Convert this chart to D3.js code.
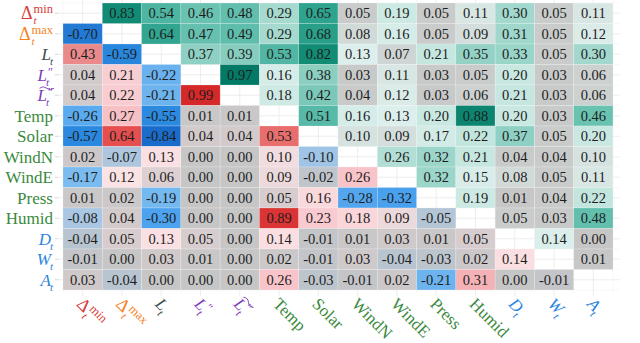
<!DOCTYPE html>
<html>
<head>
<meta charset="utf-8">
<script src="https://cdn.jsdelivr.net/npm/d3@7"></script>
<style>
  body { margin: 0; background: #fff; }
  svg { display: block; }
</style>
</head>
<body>
<div id="chart"></div>
<script>
// variable names (order of rows and columns)
let vars = ["dmin", "dmax", "L", "L2", "L2t", "Temp", "Solar", "WindN", "WindE", "Press", "Humid", "D", "W", "A"];

// correlation values: upper triangle and lower triangle, diagonal left empty
let rowDmin  = [null, 0.83, 0.54, 0.46, 0.48, 0.29, 0.65, 0.05, 0.19, 0.05, 0.11, 0.30, 0.05, 0.11];
let rowDmax  = [-0.70, null, 0.64, 0.47, 0.49, 0.29, 0.68, 0.08, 0.16, 0.05, 0.09, 0.31, 0.05, 0.12];
let rowL     = [0.43, -0.59, null, 0.37, 0.39, 0.53, 0.82, 0.13, 0.07, 0.21, 0.35, 0.33, 0.05, 0.30];
let rowL2    = [0.04, 0.21, -0.22, null, 0.97, 0.16, 0.38, 0.03, 0.11, 0.03, 0.05, 0.20, 0.03, 0.06];
let rowL2t   = [0.04, 0.22, -0.21, 0.99, null, 0.18, 0.42, 0.04, 0.12, 0.03, 0.06, 0.21, 0.03, 0.06];
let rowTemp  = [-0.26, 0.27, -0.55, 0.01, 0.01, null, 0.51, 0.16, 0.13, 0.20, 0.88, 0.20, 0.03, 0.46];
let rowSolar = [-0.57, 0.64, -0.84, 0.04, 0.04, 0.53, null, 0.10, 0.09, 0.17, 0.22, 0.37, 0.05, 0.20];
let rowWindN = [0.02, -0.07, 0.13, 0.00, 0.00, 0.10, -0.10, null, 0.26, 0.32, 0.21, 0.04, 0.04, 0.10];
let rowWindE = [-0.17, 0.12, 0.06, 0.00, 0.00, 0.09, -0.02, 0.26, null, 0.32, 0.15, 0.08, 0.05, 0.11];
let rowPress = [0.01, 0.02, -0.19, 0.00, 0.00, 0.05, 0.16, -0.28, -0.32, null, 0.19, 0.01, 0.04, 0.22];
let rowHumid = [-0.08, 0.04, -0.30, 0.00, 0.00, 0.89, 0.23, 0.18, 0.09, -0.05, null, 0.05, 0.03, 0.48];
let rowD     = [-0.04, 0.05, 0.13, 0.05, 0.00, 0.14, -0.01, 0.01, 0.03, 0.01, 0.05, null, 0.14, 0.00];
let rowW     = [-0.01, 0.00, 0.03, 0.01, 0.00, 0.02, -0.01, 0.03, -0.04, -0.03, 0.02, 0.14, null, 0.01];
let rowA     = [0.03, -0.04, 0.00, 0.00, 0.00, 0.26, -0.03, -0.01, 0.02, -0.21, 0.31, 0.00, -0.01, null];

let rows = [rowDmin, rowDmax, rowL, rowL2, rowL2t, rowTemp, rowSolar, rowWindN, rowWindE, rowPress, rowHumid, rowD, rowW, rowA];

// axis labels (main symbol, subscript, superscript)
let labels = {
	dmin:  {main: "Δ", sub: "t", sup: "min", color: "#d83a3a"},
	dmax:  {main: "Δ", sub: "t", sup: "max", color: "#f5821f"},
	L:     {main: "L", italic: true, sub: "t", color: "#3e4b4b"},
	L2:    {main: "L", italic: true, sub: "t", sup: "″", color: "#7d3bb8"},
	L2t:   {main: "L", italic: true, sub: "t", sup: "″", tilde: true, color: "#7d3bb8"},
	Temp:  {main: "Temp", color: "#3b8a3e"},
	Solar: {main: "Solar", color: "#3b8a3e"},
	WindN: {main: "WindN", color: "#3b8a3e"},
	WindE: {main: "WindE", color: "#3b8a3e"},
	Press: {main: "Press", color: "#3b8a3e"},
	Humid: {main: "Humid", color: "#3b8a3e"},
	D:     {main: "D", italic: true, sub: "t", color: "#2b84dc"},
	W:     {main: "W", italic: true, sub: "t", color: "#2b84dc"},
	A:     {main: "A", italic: true, sub: "t", color: "#2b84dc"}
};

let width = 640, height = 343;

let svg = d3.select("#chart").append("svg")
	.attr("width", width)
	.attr("height", height);

// pick the first serif font that is really there
function hasFont(name) {
	let t = svg.append("text").style("font-size", "40px").text("mmmWWlli0.83Humid");
	t.style("font-family", "monospace");
	let w0 = t.node().getComputedTextLength();
	t.style("font-family", "'" + name + "', monospace");
	let w1 = t.node().getComputedTextLength();
	t.remove();
	return Math.abs(w1 - w0) > 0.5;
}
let serifs = ["Liberation Serif", "DejaVu Serif", "Noto Serif", "Times New Roman", "Tinos", "FreeSerif", "serif"];
let font = serifs.find(hasFont) || "serif";
font = "'" + font + "', serif";

let x = d3.scaleBand().domain(vars).range([63, 613]);
let y = d3.scaleBand().domain(vars).range([3, 290]);

// colour scales
let upperColor = d3.scaleLinear()
	.domain([0, 0.05, 0.09, 0.13, 0.2, 0.3, 0.38, 0.5, 0.65, 0.83, 1])
	.range(["#c6c6c6", "#cacccc", "#d4dedc", "#ddefec", "#cae8e2", "#a2d8cd", "#8bcfc1", "#5abba9", "#2ea38d", "#118b75", "#007663"])
	.clamp(true);

let lowerColor = d3.scaleLinear()
	.domain([-1, -0.84, -0.55, -0.3, -0.17, -0.08, -0.03, 0, 0.04, 0.12, 0.26, 0.43, 0.64, 1])
	.range(["#1560c0", "#1a6ccb", "#2b8ae0", "#4ca2ee", "#7bbcf0", "#a9c6e2", "#bcc4cc", "#c6c6c6", "#d2cacb", "#fbe2e5", "#f8c3c9", "#ea8a8a", "#e64f4f", "#d42828"])
	.clamp(true);

// background grid
let grid = svg.append("g").attr("class", "grid");
let bw = x.bandwidth(), bh = y.bandwidth();
let edges = vars.map((v, i) => i).concat([vars.length]);

grid.selectAll(".vminor")
	.data(edges)
	.enter()
	.append("line")
	.attr("x1", i => 63 + i * bw)
	.attr("x2", i => 63 + i * bw)
	.attr("y1", 0)
	.attr("y2", 293)
	.style("stroke", "#f3f3f3")
	.style("stroke-width", 0.6);

grid.selectAll(".hminor")
	.data(edges)
	.enter()
	.append("line")
	.attr("x1", 58)
	.attr("x2", 620)
	.attr("y1", i => 3 + i * bh)
	.attr("y2", i => 3 + i * bh)
	.style("stroke", "#f3f3f3")
	.style("stroke-width", 0.6);

grid.selectAll(".vmajor")
	.data(vars)
	.enter()
	.append("line")
	.attr("x1", d => x(d) + bw / 2)
	.attr("x2", d => x(d) + bw / 2)
	.attr("y1", 0)
	.attr("y2", 296)
	.style("stroke", "#ebebeb")
	.style("stroke-width", 0.9);

grid.selectAll(".hmajor")
	.data(vars)
	.enter()
	.append("line")
	.attr("x1", 57)
	.attr("x2", 620)
	.attr("y1", d => y(d) + bh / 2)
	.attr("y2", d => y(d) + bh / 2)
	.style("stroke", "#ebebeb")
	.style("stroke-width", 0.9);

// flatten into cells
let cells = [];
rows.forEach((r, i) => {
	r.forEach((v, j) => {
		if (v !== null) cells.push({row: vars[i], col: vars[j], i: i, j: j, value: v});
	});
});

svg.selectAll(".cell")
	.data(cells)
	.enter()
	.append("rect")
	.attr("class", "cell")
	.attr("x", d => x(d.col))
	.attr("y", d => y(d.row))
	.attr("width", bw)
	.attr("height", bh)
	.style("fill", d => d.j > d.i ? upperColor(d.value) : lowerColor(d.value))
	.style("stroke", "#ffffff")
	.style("stroke-opacity", 0.35)
	.style("stroke-width", 0.6);

svg.selectAll(".cell-text")
	.data(cells)
	.enter()
	.append("text")
	.attr("class", "cell-text")
	.attr("x", d => x(d.col) + bw / 2)
	.attr("y", d => y(d.row) + bh / 2 + 5)
	.attr("text-anchor", "middle")
	.style("font-family", font)
	.style("font-size", "14.5px")
	.style("fill", "#1e1e1e")
	.text(d => d.value.toFixed(2));

// draws a math-style label into g, returns its width
function drawLabel(g, key) {
	let lab = labels[key];
	let big = lab.main === "Δ" ? 18 : 17;
	let main = g.append("text")
		.attr("x", 0)
		.attr("y", 0)
		.style("font-family", font)
		.style("font-size", big + "px")
		.style("font-style", lab.italic ? "italic" : "normal")
		.style("fill", lab.color)
		.text(lab.main);
	let w = main.node().getComputedTextLength();
	let extra = 0;
	if (lab.sub) {
		let s = g.append("text")
			.attr("x", w + (lab.italic ? -1 : 1))
			.attr("y", 5)
			.style("font-family", font)
			.style("font-size", "11px")
			.style("font-style", "italic")
			.style("fill", lab.color)
			.text(lab.sub);
		extra = Math.max(extra, s.node().getComputedTextLength() + (lab.italic ? -1 : 1));
	}
	if (lab.sup) {
		let s = g.append("text")
			.attr("x", w + 1)
			.attr("y", lab.main === "Δ" ? -6 : -5)
			.style("font-family", font)
			.style("font-size", lab.main === "Δ" ? "12.5px" : "12px")
			.style("fill", lab.color)
			.text(lab.sup);
		extra = Math.max(extra, s.node().getComputedTextLength() + 1);
	}
	if (lab.tilde) {
		let tw = w + extra - 1;
		g.append("path")
			.attr("d", "M2,-13 q" + (tw / 4) + ",-3 " + (tw / 2) + ",0 t" + (tw / 2) + ",0")
			.style("fill", "none")
			.style("stroke", lab.color)
			.style("stroke-width", 0.9);
	}
	return w + extra;
}

// y axis labels
vars.forEach(v => {
	let g = svg.append("g").attr("class", "ylab");
	let w = drawLabel(g, v);
	g.attr("transform", "translate(" + (53 - w) + "," + (y(v) + bh / 2 + 6) + ")");
});

// y ticks
svg.selectAll(".ytick")
	.data(vars)
	.enter()
	.append("line")
	.attr("x1", 55)
	.attr("x2", 58)
	.attr("y1", d => y(d) + bh / 2)
	.attr("y2", d => y(d) + bh / 2)
	.style("stroke", "#d8d8d8");

// x axis labels, rotated
vars.forEach(v => {
	let g = svg.append("g").attr("class", "xlab");
	drawLabel(g, v);
	g.attr("transform", "translate(" + (x(v) + bw / 2 - 7) + ",305)rotate(45)");
});
</script>
</body>
</html>
